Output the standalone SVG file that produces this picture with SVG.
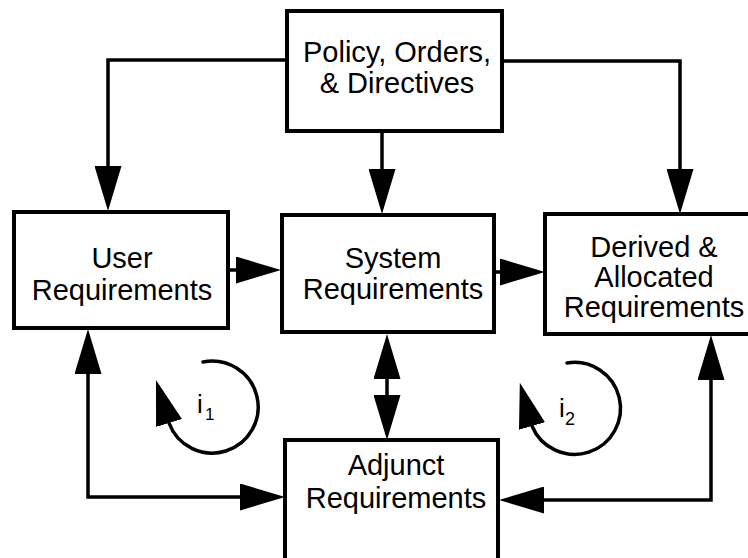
<svg xmlns="http://www.w3.org/2000/svg" width="748" height="558" viewBox="0 0 748 558">
<style>
.box{fill:#fff;stroke:#000;stroke-width:4}
.lbl{font-family:"Liberation Sans",Arial,sans-serif;font-size:29px;fill:#000;text-anchor:middle}
.con{fill:none;stroke:#000;stroke-width:3.5;marker-end:url(#ah)}
.both{marker-start:url(#ah)}
.loop{fill:none;stroke:#000;stroke-width:3.5;stroke-linecap:round;marker-end:url(#ah)}
.it{font-family:"Liberation Sans",Arial,sans-serif;fill:#000}
</style>
<defs>
<marker id="ah" markerUnits="userSpaceOnUse" markerWidth="46" markerHeight="27" refX="1" refY="13.5" orient="auto-start-reverse" viewBox="0 0 46 27">
<path d="M0,0 L45,13.5 L0,27 z" fill="#000"/>
</marker>
</defs>
<rect width="748" height="558" fill="#fff"/>
<g id="connectors">
<path class="con" d="M287 60 H108 V167"/>
<path class="con" d="M382 131 V170"/>
<path class="con" d="M502 61 H680 V170"/>
<path class="con" d="M228 270 H237"/>
<path class="con" d="M494 272 H501"/>
<path class="con both" d="M387 378 V396"/>
<path class="con both" d="M88 373 V497 H241"/>
<path class="con both" d="M711 379 V500 H543"/>
</g>
<g id="policy">
<rect class="box" x="287" y="11" width="215" height="120"/>
<text class="lbl" x="397" y="62">Policy, Orders,</text>
<text class="lbl" x="397" y="93">&amp; Directives</text>
</g>
<g id="user">
<rect class="box" x="14" y="212" width="214" height="116"/>
<text class="lbl" x="122" y="268">User</text>
<text class="lbl" x="122" y="300">Requirements</text>
</g>
<g id="system">
<rect class="box" x="282" y="215" width="212" height="117"/>
<text class="lbl" x="393" y="268">System</text>
<text class="lbl" x="393" y="299">Requirements</text>
</g>
<g id="derived">
<rect class="box" x="545" y="214" width="212" height="120"/>
<text class="lbl" x="654" y="257">Derived &amp;</text>
<text class="lbl" x="654" y="287">Allocated</text>
<text class="lbl" x="654" y="317">Requirements</text>
</g>
<g id="adjunct">
<rect class="box" x="285" y="440" width="213" height="130"/>
<text class="lbl" x="396" y="475">Adjunct</text>
<text class="lbl" x="396" y="508">Requirements</text>
</g>
<g id="loop1">
<path class="loop" d="M203 362 A46 46 0 1 1 169 423 l-0.29 -0.96"/>
<text class="it" x="197" y="413" font-size="26">i</text>
<text class="it" x="205" y="420" font-size="17">1</text>
</g>
<g id="loop2">
<path class="loop" d="M567 363 A46 46 0 1 1 532 426 l-0.27 -0.96"/>
<text class="it" x="559" y="417" font-size="26">i</text>
<text class="it" x="565" y="425" font-size="18">2</text>
</g>
</svg>
